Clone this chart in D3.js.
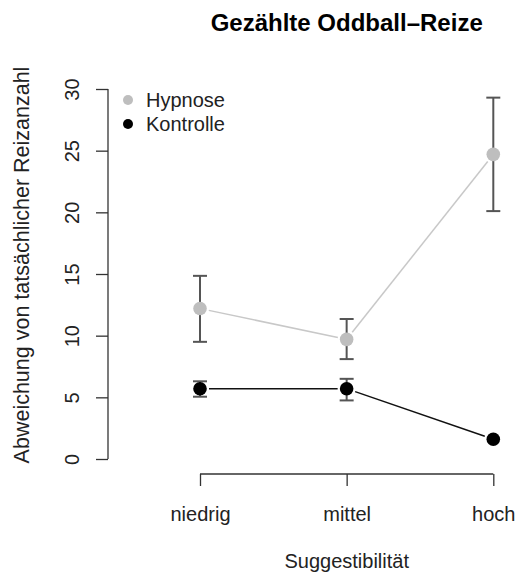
<!DOCTYPE html>
<html>
<head>
<meta charset="utf-8">
<script src="https://cdn.jsdelivr.net/npm/d3@7"></script>
<style>
  body { margin: 0; background: #fff; }
  svg { font-family: "Liberation Sans", Arial, sans-serif; }
</style>
</head>
<body>
<div id="svg-container"></div>
<script>
////////////////////////////  Data  ////////////////////////////
const categories = ["niedrig", "mittel", "hoch"];
const groups = ["Hypnose", "Kontrolle"];
const hypnoseMean = [12.2, 9.7, 24.7];
const hypnoseLow = [9.5, 8.1, 20.1];
const hypnoseHigh = [14.85, 11.35, 29.3];
const kontrolleMean = [5.7, 5.7, 1.6];
const kontrolleLow = [5.05, 4.75, 1.6];
const kontrolleHigh = [6.3, 6.5, 1.6];
const yTicks = [0, 5, 10, 15, 20, 25, 30];

const series = [
  { name: groups[0], mean: hypnoseMean, lo: hypnoseLow, hi: hypnoseHigh, point: "#bebebe", line: "#c8c8c8" },
  { name: groups[1], mean: kontrolleMean, lo: kontrolleLow, hi: kontrolleHigh, point: "#000", line: "#111" },
];

////////////////////////////  Init  ////////////////////////////
const width = 519, height = 573;
const svg = d3.select("#svg-container").append("svg")
  .attr("width", width).attr("height", height);

// scales
const x = d3.scalePoint().domain(categories).range([200, 493.3]);
const y = d3.scaleLinear().domain([0, 30]).range([459, 89]);
const axisColor = "#333";

// title
svg.append("text")
  .attr("x", 346.7).attr("y", 31)
  .attr("text-anchor", "middle")
  .attr("font-size", 24).attr("font-weight", "bold")
  .attr("fill", "#000")
  .text("Gezählte Oddball\u2013Reize");

// y axis
const yAxis = svg.append("g")
  .attr("transform", "translate(108,0)")
  .call(d3.axisLeft(y).tickValues(yTicks).tickSize(12).tickSizeOuter(0));
yAxis.select(".domain").attr("stroke", axisColor).attr("stroke-width", 1.3)
  .attr("d", `M0,${y(0)}V${y(30)}`);
yAxis.selectAll(".tick line").attr("stroke", axisColor).attr("stroke-width", 1.3);
yAxis.selectAll(".tick text")
  .attr("x", 0).attr("y", 0)
  .attr("dy", 0)
  .attr("transform", "translate(-29,0) rotate(-90)")
  .attr("text-anchor", "middle")
  .attr("font-size", 20)
  .attr("font-family", "Liberation Sans, Arial, sans-serif")
  .attr("fill", "#222");

// x axis
const xAxis = svg.append("g")
  .attr("transform", "translate(0,474)")
  .call(d3.axisBottom(x).tickSize(12).tickSizeOuter(0));
xAxis.select(".domain").attr("stroke", axisColor).attr("stroke-width", 1.3)
  .attr("d", `M${x("niedrig")},0H${x("hoch")}`);
xAxis.selectAll(".tick line").attr("stroke", axisColor).attr("stroke-width", 1.3);
xAxis.selectAll(".tick text")
  .attr("y", 47).attr("dy", 0)
  .attr("font-size", 20)
  .attr("font-family", "Liberation Sans, Arial, sans-serif")
  .attr("fill", "#222");

// axis titles
svg.append("text")
  .attr("x", 346.7).attr("y", 568)
  .attr("text-anchor", "middle")
  .attr("font-size", 20).attr("fill", "#222")
  .text("Suggestibilität");

svg.append("text")
  .attr("transform", "translate(29,265) rotate(-90)")
  .attr("text-anchor", "middle")
  .attr("font-size", 21.5).attr("fill", "#222")
  .text("Abweichung von tatsächlicher Reizanzahl");

////////////////////////////  Marks  ////////////////////////////
const gap = 9;
series.forEach((s) => {
  const pts = categories.map((c, i) => [x(c), y(s.mean[i])]);

  // connecting segments (type "b": gaps around points)
  for (let i = 0; i < pts.length - 1; i++) {
    const [x1, y1] = pts[i], [x2, y2] = pts[i + 1];
    const len = Math.hypot(x2 - x1, y2 - y1);
    const ux = (x2 - x1) / len, uy = (y2 - y1) / len;
    svg.append("line")
      .attr("x1", x1 + ux * gap).attr("y1", y1 + uy * gap)
      .attr("x2", x2 - ux * gap).attr("y2", y2 - uy * gap)
      .attr("stroke", s.line).attr("stroke-width", 1.5);
  }

  // error bars
  const bars = svg.append("g").selectAll("g")
    .data(categories.filter((c, i) => s.hi[i] - s.lo[i] > 0.01))
    .enter().append("g")
    .attr("stroke", "#555").attr("stroke-width", 2);
  bars.append("line")
    .attr("x1", (d) => x(d)).attr("x2", (d) => x(d))
    .attr("y1", (d) => y(s.lo[categories.indexOf(d)]))
    .attr("y2", (d) => y(s.hi[categories.indexOf(d)]));
  bars.append("line")
    .attr("x1", (d) => x(d) - 7).attr("x2", (d) => x(d) + 7)
    .attr("y1", (d) => y(s.lo[categories.indexOf(d)]))
    .attr("y2", (d) => y(s.lo[categories.indexOf(d)]));
  bars.append("line")
    .attr("x1", (d) => x(d) - 7).attr("x2", (d) => x(d) + 7)
    .attr("y1", (d) => y(s.hi[categories.indexOf(d)]))
    .attr("y2", (d) => y(s.hi[categories.indexOf(d)]));

  // points
  svg.append("g").selectAll("circle")
    .data(categories)
    .enter().append("circle")
    .attr("cx", (d) => x(d))
    .attr("cy", (d, i) => y(s.mean[i]))
    .attr("r", 6.8)
    .attr("fill", s.point);
});

////////////////////////////  Legend  ////////////////////////////
const legend = svg.append("g").selectAll("g")
  .data(series).enter().append("g")
  .attr("transform", (d, i) => `translate(128,${100 + 24 * i})`);
legend.append("circle").attr("r", 5).attr("fill", (d) => d.point);
legend.append("text")
  .attr("x", 18).attr("y", 7)
  .attr("font-size", 20).attr("fill", "#222")
  .text((d) => d.name);
</script>
</body>
</html>
